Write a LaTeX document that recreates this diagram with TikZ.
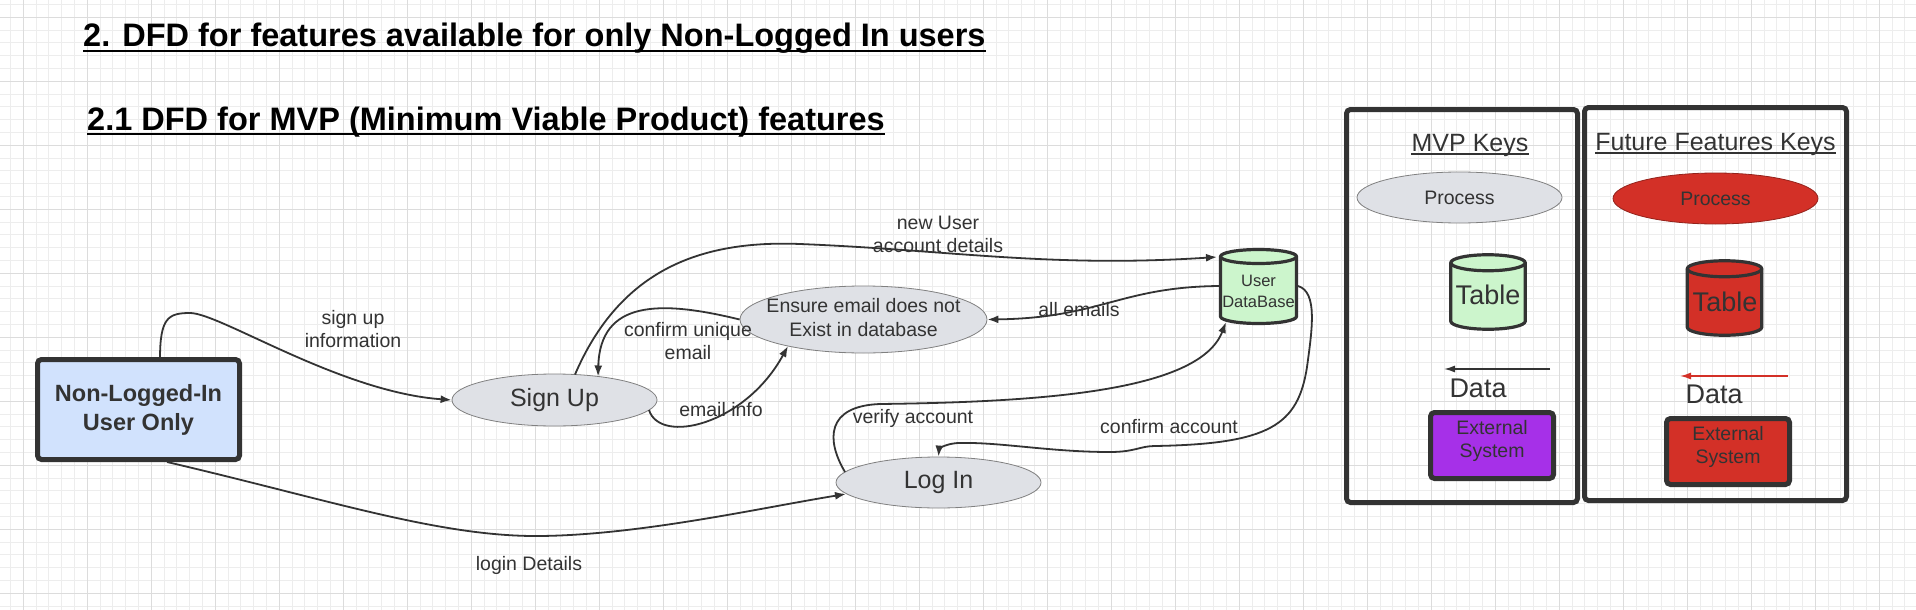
\documentclass[tikz,border=0pt]{standalone}
\usepackage{fontspec}
\setmainfont{Liberation Sans}
\usetikzlibrary{shapes.geometric,arrows.meta,calc}
\definecolor{ink}{HTML}{333333}
\definecolor{procfill}{HTML}{DFE1E6}
\definecolor{procline}{HTML}{808080}
\definecolor{userfill}{HTML}{D1E2FD}
\definecolor{dbfill}{HTML}{CCF5CC}
\definecolor{keyred}{HTML}{D33027}
\definecolor{keypurple}{HTML}{A630E8}
\definecolor{gminorc}{HTML}{EDEDED}
\definecolor{gmajorc}{HTML}{DCDCDC}
\newcommand{\cylshape}[6]{%
  \filldraw[fill=#6, draw=ink, line width=3.2pt, line join=round]
    ({#1-#3/2},{#2+#5}) -- ({#1-#3/2},{#2+#4-#5})
    arc[start angle=180, end angle=0, x radius={#3/2}, y radius={#5}]
    -- ({#1+#3/2},{#2+#5})
    arc[start angle=0, end angle=-180, x radius={#3/2}, y radius={#5}] -- cycle;
  \draw[draw=ink, line width=3.2pt] ({#1-#3/2},{#2+#5})
    arc[start angle=180, end angle=0, x radius={#3/2}, y radius={#5}];
}
\begin{document}
\begin{tikzpicture}[x=1pt,y=-1pt,
  proc/.style={ellipse, draw=procline, line width=0.8pt, fill=procfill, inner sep=0pt, text=ink},
  lbl/.style={text=ink, font=\fontsize{19.5}{23.5}\selectfont, align=center, inner sep=0pt},
  flow/.style={draw=ink, line width=1.8pt, -{Latex[length=11pt,width=8pt]}},
  thickbox/.style={draw=ink, line width=5pt, rounded corners=4pt, inner sep=0pt},
  gminor/.style={draw=gminorc, line width=1pt},
  gmajor/.style={draw=gmajorc, line width=1.2pt},
  titlef/.style={anchor=base west, inner sep=0pt, text=black, font=\bfseries\fontsize{32.5}{39}\selectfont},
  keyt/.style={anchor=base, inner sep=0pt, text=ink, font=\fontsize{25}{30}\selectfont},
  bigt/.style={inner sep=0pt, text=ink, font=\fontsize{27}{32}\selectfont},
]
\useasboundingbox (0,0) rectangle (1916,610);
\fill[white] (0,0) rectangle (1916,610);
% grid
\foreach \k in {0,...,148} {\draw[gminor] ({10.5+12.8*\k},0) -- ({10.5+12.8*\k},610);}
\foreach \k in {0,...,47} {\draw[gminor] (0,{4.5+12.8*\k}) -- (1916,{4.5+12.8*\k});}
\foreach \k in {0,...,29} {\draw[gmajor] ({23.3+64*\k},0) -- ({23.3+64*\k},610);}
\foreach \k in {0,...,9} {\draw[gmajor] (0,{17.3+64*\k}) -- (1916,{17.3+64*\k});}

% titles
\node[titlef] (t1) at (83,47) {2. DFD for features available for only Non-Logged In users};
\draw[line width=2.5pt] ($(t1.base west)+(0,4)$) -- ($(t1.base east)+(0,4)$);
\node[titlef] (t2) at (87,130) {2.1 DFD for MVP (Minimum Viable Product) features};
\draw[line width=2.5pt] ($(t2.base west)+(0,4)$) -- ($(t2.base east)+(0,4)$);

% main nodes
\node[thickbox, fill=userfill, minimum width=202pt, minimum height=100pt, text=ink,
      font=\bfseries\fontsize{23.5}{29}\selectfont, align=center] (user) at (138.5,409.5) {Non-Logged-In\\User Only};
\node[proc, minimum width=205pt, minimum height=52pt, font=\fontsize{25}{30}\selectfont] (signup) at (554.5,400) {Sign Up};
\node[proc, minimum width=247pt, minimum height=67pt] (ensure) at (863.5,319.5) {};
\node[lbl] (ensuret) at (863.5,317.5) {Ensure email does not\\Exist in database};
\node[proc, minimum width=205pt, minimum height=51pt, font=\fontsize{25}{30}\selectfont] (login) at (938.5,482.5) {Log In};
\cylshape{1258.5}{249.5}{76}{74}{7}{dbfill}
\node[inner sep=0pt, minimum width=79pt, minimum height=77pt, text=ink, align=center,
      font=\fontsize{16.5}{21}\selectfont] (db) at (1258.5,291.5) {User\\DataBase};

% connectors
\draw[flow] ($(user)+(21.5,-50.5)$) .. controls (160,318) and (168,313) .. (190,313)
  .. controls (220,313) and (340,392) .. (signup.west);
\draw[flow] ($(user)+(28.5,52.5)$) .. controls (330,500) and (440,537) .. (540,536)
  .. controls (640,535) and (760,508) .. ($(login)+(-92.5,11.5)$);
\draw[flow] ($(signup)+(20.5,-25.5)$) .. controls (620,270) and (700,240) .. (800,244)
  .. controls (950,250) and (1050,268) .. ($(db)+(-41.5,-34.5)$);
\draw[flow] (ensure.west) .. controls (660,300) and (600,300) .. ($(signup)+(43.5,-23.5)$);
\draw[flow] ($(signup)+(94.5,10)$) .. controls (660,445) and (745,425) .. ($(ensure)+(-75.5,26.5)$);
\draw[flow] ($(db)+(-39.5,-5.5)$) .. controls (1120,287) and (1100,318) .. (ensure.east);
\draw[flow] ($(login)+(-93.5,-10.5)$) .. controls (826,440) and (826,406) .. (880,404)
  .. controls (1050,402) and (1200,390) .. ($(db)+(-32.5,30.5)$);
\draw[flow] ($(db)+(39.5,-5.5)$) .. controls (1318,292) and (1312,330) .. (1307,367)
  .. controls (1298,425) and (1270,444) .. (1155,446)
  .. controls (1140,446) and (1135,452) .. (1110,452)
  .. controls (1050,452) and (1000,442) .. (960,443)
  .. controls (945,443) and (939,450) .. (login.north);

% labels
\node[lbl] at (353,329) {sign up\\information};
\node[lbl] at (938,234.5) {new User\\account details};
\node[lbl] at (688,341) {confirm unique\\email};
\node[lbl] at (1079,310) {all emails};
\node[lbl] at (721,410) {email info};
\node[lbl] at (913,418) {verify account};
\node[lbl] at (1169,427) {confirm account};
\node[lbl] at (529,565) {login Details};

% keys
\node[thickbox, minimum width=231pt, minimum height=393pt] (mvpbox) at (1462,306) {};
\node[thickbox, minimum width=262pt, minimum height=393pt] (futbox) at (1715.5,304) {};
\node[keyt] (mvpk) at (1470,151.5) {MVP Keys};
\draw[ink, line width=1.5pt] ($(mvpk.base west)+(0,2.5)$) -- ($(mvpk.base east)+(0,2.5)$);
\node[keyt] (futk) at (1715.5,150.5) {Future Features Keys};
\draw[ink, line width=1.5pt] ($(futk.base west)+(0,2.5)$) -- ($(futk.base east)+(0,2.5)$);

\node[proc, minimum width=205pt, minimum height=51pt, font=\fontsize{19.5}{23}\selectfont] (mvpproc) at (1459.5,197.5) {Process};
\node[proc, draw=keyred!70!black, fill=keyred, minimum width=205pt, minimum height=51pt, font=\fontsize{19.5}{23}\selectfont] (futproc) at (1715.5,198.5) {Process};

\cylshape{1488}{254.75}{74.5}{74.5}{8}{dbfill}
\node[bigt] (mvptab) at (1488,295) {Table};
\cylshape{1724.5}{260.75}{74.5}{74.5}{8}{keyred}
\node[bigt] (futtab) at (1725,302) {Table};

\coordinate (mvpd1) at (1550,369);
\coordinate (mvpd2) at (1444,369);
\draw[draw=ink, line width=1.5pt, -{Latex[length=11pt,width=7pt]}] (mvpd1) -- (mvpd2);
\node[bigt] (mvpdata) at (1478,388) {Data};
\coordinate (futd1) at (1788,376);
\coordinate (futd2) at (1680,376);
\draw[draw=keyred, line width=1.5pt, -{Latex[length=11pt,width=7pt]}] (futd1) -- (futd2);
\node[bigt] (futdata) at (1714,394) {Data};

\node[thickbox, fill=keypurple, minimum width=123pt, minimum height=66pt] (mvpext) at (1492,445.5) {};
\node[lbl, font=\fontsize{19.5}{23}\selectfont] at (1492,440.5) {External\\System};
\node[thickbox, fill=keyred, minimum width=123pt, minimum height=66pt] (futext) at (1728,451.5) {};
\node[lbl, font=\fontsize{19.5}{23}\selectfont] at (1728,447) {External\\System};
\end{tikzpicture}
\end{document}
